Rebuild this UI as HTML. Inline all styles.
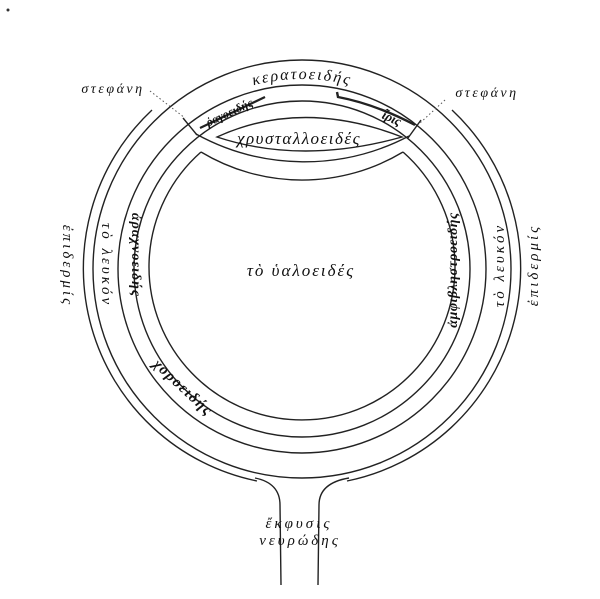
<!DOCTYPE html>
<html><head><meta charset="utf-8"><style>
html,body{margin:0;padding:0;background:#fff;}
svg{display:block;}
text{font-family:"Liberation Serif","DejaVu Serif",serif;font-style:italic;fill:#111;}
</style></head><body>
<svg width="600" height="599" viewBox="0 0 600 599" xmlns="http://www.w3.org/2000/svg">
<defs>
<path id="kp" d="M 112,269 A 190,190 0 0 1 492,269"/>
</defs>
<circle cx="8" cy="10" r="1.5" fill="#333"/>
<g fill="none" stroke="#222" stroke-width="1.4">
<circle cx="302" cy="269" r="209"/>
<circle cx="302" cy="269" r="184"/>
<circle cx="302" cy="269" r="168"/>
<path d="M 152,110 A 217,217 0 0 0 257,481"/>
<path d="M 347,481 A 217,217 0 0 0 452,110"/>
<path d="M 201,152 A 153,153 0 1 0 403,152"/>
<path d="M 201,152 A 196,196 0 0 0 403,152"/>
<path d="M 196,134 A 225,225 0 0 0 409,136"/>
<path d="M 183,118 L 197,135"/>
<path d="M 421,120 L 408,138"/>
<path d="M 217,137 Q 302,98 402,137 Q 302,165 217,137 Z"/>
<path d="M 255,478 Q 280,483 280,505 L 281,585"/>
<path d="M 349,478 Q 319,483 319,505 L 318,585"/>
<path d="M 337,92 L 338,97 Q 375,104 415,125" stroke-width="2.4"/>
<path d="M 200,128 L 265,97" stroke-width="2.2"/>
</g>
<g stroke="#555" stroke-width="1" stroke-dasharray="1.5,2.5" fill="none">
<path d="M 150,91 L 185,118"/>
<path d="M 445,100 L 420,123"/>
</g>
<text font-size="16" letter-spacing="2"><textPath href="#kp" startOffset="50%" text-anchor="middle">κερατοειδής</textPath></text>
<text x="113" y="93" font-size="14" text-anchor="middle" letter-spacing="2.5">στεφάνη</text>
<text x="487" y="97" font-size="14" text-anchor="middle" letter-spacing="2.5">στεφάνη</text>
<text font-size="12" font-weight="bold" text-anchor="middle" transform="translate(231,116) rotate(-25)">ῥαγοειδής</text>
<text font-size="13" font-weight="bold" text-anchor="middle" transform="translate(390,122) rotate(25)">ἶρις</text>
<text x="299" y="144" font-size="17" text-anchor="middle" letter-spacing="1.5">χρυσταλλοειδές</text>
<text x="301" y="276" font-size="17" text-anchor="middle" letter-spacing="2">τὸ ὑαλοειδές</text>
<text font-size="15" text-anchor="middle" letter-spacing="3" transform="translate(63,266) rotate(90)">ἐπιδερμίς</text>
<text font-size="15" text-anchor="middle" letter-spacing="3" transform="translate(102,265) rotate(90)">τὸ λευκόν</text>
<text font-size="14" font-weight="bold" text-anchor="middle" letter-spacing="1" transform="translate(132,255) rotate(90)">ἀραχνοειδής</text>
<text font-size="14" font-weight="bold" text-anchor="middle" letter-spacing="0.5" transform="translate(457,270) rotate(-90)">ἀμφιβληστροειδής</text>
<text font-size="15" text-anchor="middle" letter-spacing="3" transform="translate(504,265) rotate(-90)">τὸ λευκόν</text>
<text font-size="15" text-anchor="middle" letter-spacing="3" transform="translate(538,265) rotate(-90)">ἐπιδερμίς</text>
<text font-size="15" font-weight="bold" text-anchor="middle" letter-spacing="1.5" transform="translate(180,391) rotate(43)">χοροειδής</text>
<text x="299" y="528" font-size="15" text-anchor="middle" letter-spacing="3">ἔκφυσις</text>
<text x="300" y="545" font-size="15" text-anchor="middle" letter-spacing="3">νευρώδης</text>
</svg>
</body></html>
